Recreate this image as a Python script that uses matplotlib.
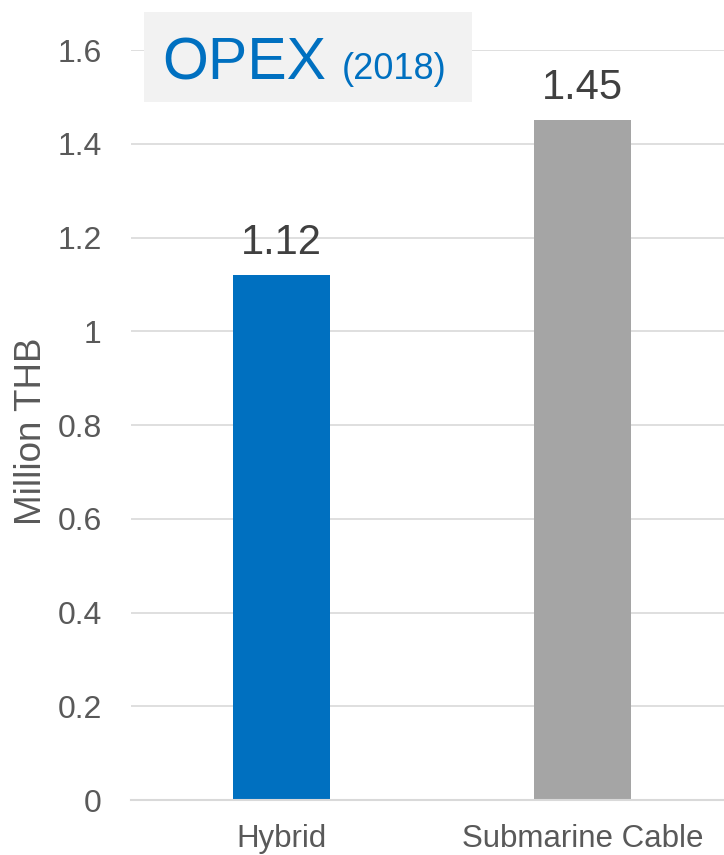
import matplotlib.pyplot as plt
from matplotlib.patches import Rectangle
from matplotlib.ticker import FuncFormatter

plt.rcParams['font.family'] = ['Liberation Sans', 'DejaVu Sans']

# data
categories = ['Hybrid', 'Submarine Cable']
values = [1.12, 1.45]
colors = ['#0070C0', '#A5A5A5']
yticks = [0, 0.2, 0.4, 0.6, 0.8, 1.0, 1.2, 1.4, 1.6]

W, H = 724, 855
fig = plt.figure(figsize=(W / 100, H / 100), dpi=100)
ax = fig.add_axes([131 / W, (H - 800) / H, (W - 131) / W, 750 / H])

x = range(len(categories))
ax.bar(x, values, width=0.32, color=colors, zorder=3)
for xi, v in zip(x, values):
    ax.text(xi, v + 0.045, '%.2f' % v, ha='center', va='baseline',
            fontsize=30, color='#404040')

ax.set_xlim(-0.5, (W - 131) / 301 - 0.5)
ax.set_ylim(0, 1.6)
ax.set_yticks(yticks)
ax.yaxis.set_major_formatter(FuncFormatter(lambda v, p: '%g' % round(v, 1)))
ax.set_xticks(list(x))
ax.set_xticklabels(categories)
ax.tick_params(axis='y', length=0, pad=21, labelsize=23, labelcolor='#595959')
ax.tick_params(axis='x', length=0, pad=17, labelsize=22.5, labelcolor='#595959')
ax.grid(axis='y', color='#D9D9D9', linewidth=1.2, zorder=0)
ax.set_axisbelow(True)
for s in ['top', 'right', 'left']:
    ax.spines[s].set_visible(False)
ax.spines['bottom'].set_color('#D9D9D9')
ax.spines['bottom'].set_linewidth(1.5)
ax.spines['bottom'].set_zorder(4)

ax.set_ylabel('Million THB', fontsize=26.5, color='#595959')
ax.yaxis.set_label_coords((49 - 131) / (W - 131), (800 - 431) / 750)

# title box
fig.patches.append(Rectangle((144 / W, (H - 102) / H), 328 / W, 90 / H,
                             transform=fig.transFigure, facecolor='#F2F2F2',
                             edgecolor='none', zorder=5))
fig.text(162 / W, 1 - 79 / H, 'OPEX', fontsize=42.5, color='#0070C0',
         va='baseline', ha='left', zorder=6)
fig.text(342 / W, 1 - 79 / H, '(2018)', fontsize=26, color='#0070C0',
         va='baseline', ha='left', zorder=6)

fig.savefig('out.png', dpi=100)
